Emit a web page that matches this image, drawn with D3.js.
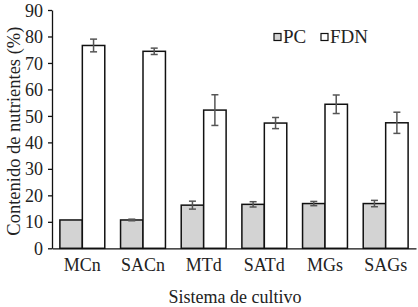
<!DOCTYPE html>
<meta charset="utf-8" />
<style>
  body { margin: 0; background: #fff; }
  text { font-family: "Liberation Serif", "Times New Roman", serif; fill: #222; }
</style>
<body>
  <script src="https://d3js.org/d3.v7.min.js"></script>
  <script>
    // data
    const systems = ["MCn", "SACn", "MTd", "SATd", "MGs", "SAGs"];
    const series = ["PC", "FDN"];
    const pc = [10.7, 10.7, 16.3, 16.6, 16.9, 16.9];
    const pcErr = [0, 0.3, 1.5, 1.0, 0.8, 1.2];
    const fdn = [76.6, 74.4, 52.2, 47.3, 54.4, 47.4];
    const fdnErr = [2.4, 1.2, 5.8, 2.1, 3.5, 4.0];
    const yTicks = [0, 10, 20, 30, 40, 50, 60, 70, 80, 90];

    const width = 418, height = 307;
    const margin = { top: 10, right: 2, bottom: 58, left: 52 };

    const svg = d3.select("body").append("svg")
      .attr("width", width)
      .attr("height", height);

    const x = d3.scaleBand()
      .domain(systems)
      .range([margin.left, width - margin.right])
      .paddingInner(0.26)
      .paddingOuter(0.13);

    const x1 = d3.scaleBand()
      .domain(series)
      .range([0, x.bandwidth()]);

    const y = d3.scaleLinear()
      .domain([0, 90])
      .range([height - margin.bottom - 0.7, margin.top]);

    const fills = { PC: "#d3d3d3", FDN: "#ffffff" };

    const rows = [];
    systems.forEach((s, i) => {
      rows.push({ sys: s, key: "PC", v: pc[i], e: pcErr[i] });
      rows.push({ sys: s, key: "FDN", v: fdn[i], e: fdnErr[i] });
    });

    // bars
    svg.append("g").selectAll("rect")
      .data(rows)
      .join("rect")
      .attr("x", d => x(d.sys) + x1(d.key))
      .attr("y", d => y(d.v))
      .attr("width", x1.bandwidth())
      .attr("height", d => y(0) - y(d.v))
      .attr("fill", d => fills[d.key])
      .attr("stroke", "#111")
      .attr("stroke-width", 1.5);

    // error bars
    const eb = svg.append("g").attr("stroke", "#555").attr("stroke-width", 1.5);
    rows.filter(d => d.e > 0).forEach(d => {
      const cx = x(d.sys) + x1(d.key) + x1.bandwidth() / 2;
      eb.append("line").attr("x1", cx).attr("x2", cx)
        .attr("y1", y(d.v + d.e)).attr("y2", y(d.v - d.e));
      [d.v + d.e, d.v - d.e].forEach(t => {
        eb.append("line").attr("x1", cx - 3.5).attr("x2", cx + 3.5)
          .attr("y1", y(t)).attr("y2", y(t));
      });
    });

    // y axis
    const yAxis = svg.append("g")
      .attr("transform", "translate(" + margin.left + ",0)")
      .call(d3.axisLeft(y).tickValues(yTicks).tickSize(4).tickPadding(5).tickSizeOuter(0));
    yAxis.selectAll("text").style("font-size", "18px").attr("dy", "0.34em");
    yAxis.selectAll("path, line").attr("stroke", "#111").attr("stroke-width", 1.3);

    // x axis
    const xAxis = svg.append("g")
      .attr("transform", "translate(0," + y(0) + ")")
      .call(d3.axisBottom(x).tickSize(0).tickPadding(10).tickSizeOuter(0));
    xAxis.select("path").attr("stroke", "#111").attr("stroke-width", 1.3);
    xAxis.selectAll("text").style("font-size", "18px");

    // axis titles
    svg.append("text")
      .attr("x", 235)
      .attr("y", 303)
      .attr("text-anchor", "middle")
      .style("font-size", "18px")
      .text("Sistema de cultivo");

    svg.append("text")
      .attr("transform", "translate(20," + ((margin.top + y(0)) / 2 + 2) + ") rotate(-90)")
      .attr("text-anchor", "middle")
      .style("font-size", "18.5px")
      .text("Contenido de nutrientes (%)");

    // legend
    const legend = svg.append("g");
    const legendX = [274, 321];
    series.forEach((s, i) => {
      legend.append("rect")
        .attr("x", legendX[i]).attr("y", 33.5)
        .attr("width", 7).attr("height", 7)
        .attr("fill", fills[s])
        .attr("stroke", "#111").attr("stroke-width", 1.2);
      legend.append("text")
        .attr("x", legendX[i] + 9).attr("y", 43)
        .style("font-size", "19px")
        .text(s);
    });
  </script>
</body>
